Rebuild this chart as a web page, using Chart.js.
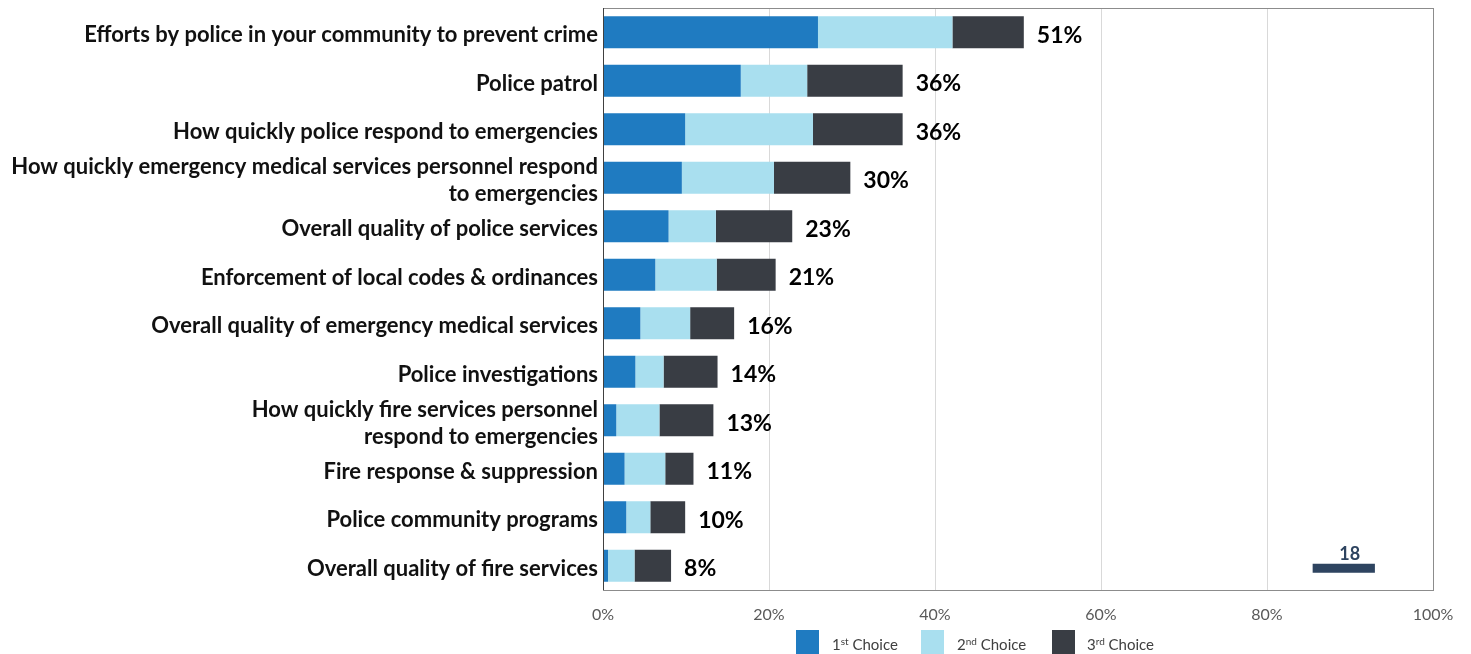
<!DOCTYPE html>
<html>
<head>
<meta charset="utf-8">
<script src="https://cdn.jsdelivr.net/npm/chart.js@4.4.1/dist/chart.umd.min.js"></script>
<style>
  html, body { margin: 0; padding: 0; background: #fff; }
  #wrap { position: relative; width: 1471px; height: 654px; overflow: hidden; }
  #choiceChart { position: absolute; left: 0; top: 0; }
  .legend { position: absolute; top: 630px; font-family: Lato, "Open Sans", sans-serif; font-size: 15px; color: #404040; }
  .legend span.box { position: absolute; top: 0; width: 23px; height: 26px; }
  .legend span.txt { position: absolute; top: 5px; white-space: nowrap; }
  .legend sup { font-size: 10px; vertical-align: 5px; line-height: 0; }
</style>
</head>
<body>
<div id="wrap">
  <canvas id="choiceChart" width="1471" height="654"></canvas>
  <div class="legend">
    <span class="box" style="left:796px;background:#1f7bc1"></span><span class="txt" style="left:832px">1<sup>st</sup> Choice</span>
    <span class="box" style="left:921px;background:#a9dfef"></span><span class="txt" style="left:957px">2<sup>nd</sup> Choice</span>
    <span class="box" style="left:1052px;background:#393d44"></span><span class="txt" style="left:1087px">3<sup>rd</sup> Choice</span>
  </div>
</div>
<script>
// services ranked as 1st / 2nd / 3rd choice (percent of respondents)
const categories = [
  'Efforts by police in your community to prevent crime',
  'Police patrol',
  'How quickly police respond to emergencies',
  ['How quickly emergency medical services personnel respond', 'to emergencies'],
  'Overall quality of police services',
  'Enforcement of local codes & ordinances',
  'Overall quality of emergency medical services',
  'Police investigations',
  ['How quickly fire services personnel', 'respond to emergencies'],
  'Fire response & suppression',
  'Police community programs',
  'Overall quality of fire services'
];
const firstChoice  = [25.9, 16.6, 9.9, 9.5, 7.9, 6.3, 4.5, 3.9, 1.6, 2.6, 2.8, 0.6];
const secondChoice = [16.2, 8.0, 15.4, 11.1, 5.7, 7.4, 6.0, 3.4, 5.2, 4.9, 2.9, 3.2];
const thirdChoice  = [8.6, 11.5, 10.8, 9.2, 9.2, 7.1, 5.3, 6.5, 6.5, 3.4, 4.2, 4.4];
const xTicks = [0, 20, 40, 60, 80, 100];

// small sample-size marker in the lower right
const markerLabel = '18';
const markerFrom = 85.5;
const markerTo = 93;

const totals = categories.map((c, i) => firstChoice[i] + secondChoice[i] + thirdChoice[i]);

const extrasPlugin = {
  id: 'extras',
  afterDatasetsDraw(chart) {
    const ctx = chart.ctx;
    const x = chart.scales.x, y = chart.scales.y;
    const a = chart.chartArea;
    ctx.save();
    // plot frame
    ctx.strokeStyle = '#8c8c8c';
    ctx.lineWidth = 1;
    ctx.strokeRect(a.left + 0.5, a.top + 0.5, a.right - a.left, a.bottom - a.top);
    ctx.strokeStyle = '#404040';
    ctx.beginPath();
    ctx.moveTo(a.left + 0.5, a.top);
    ctx.lineTo(a.left + 0.5, a.bottom);
    ctx.stroke();

    // total labels at the end of each bar
    ctx.fillStyle = '#000';
    ctx.font = 'bold 23px Lato, "Open Sans", sans-serif';
    ctx.textAlign = 'left';
    ctx.textBaseline = 'middle';
    totals.forEach((t, i) => {
      ctx.fillText(Math.round(t) + '%', x.getPixelForValue(t) + 13, y.getPixelForValue(i) + 3);
    });

    // marker bar + label
    const row = categories.length - 1;
    const yc = y.getPixelForValue(row) + 2;
    const x0 = x.getPixelForValue(markerFrom), x1 = x.getPixelForValue(markerTo);
    ctx.fillStyle = '#2e4460';
    ctx.fillRect(x0, yc - 4, x1 - x0, 9);
    ctx.font = 'bold 18px Lato, "Open Sans", sans-serif';
    ctx.textAlign = 'center';
    ctx.textBaseline = 'bottom';
    ctx.fillText(markerLabel, (x0 + x1) / 2 + 6, yc - 5);
    ctx.restore();
  }
};

const ctx = document.getElementById('choiceChart').getContext('2d');
const myChart = new Chart(ctx, {
  type: 'bar',
  data: {
    labels: categories,
    datasets: [
      { label: '1st Choice', data: firstChoice, backgroundColor: '#1f7bc1' },
      { label: '2nd Choice', data: secondChoice, backgroundColor: '#a9dfef' },
      { label: '3rd Choice', data: thirdChoice, backgroundColor: '#393d44' }
    ]
  },
  options: {
    indexAxis: 'y',
    responsive: false,
    animation: false,
    layout: { padding: { top: 8, right: 38, bottom: 30, left: 0 } },
    datasets: { bar: { categoryPercentage: 1, barPercentage: 0.66 } },
    plugins: {
      legend: { display: false },
      tooltip: { enabled: false }
    },
    scales: {
      x: {
        stacked: true,
        min: 0,
        max: 100,
        afterBuildTicks(scale) { scale.ticks = xTicks.map(v => ({ value: v })); },
        afterFit(scale) { scale.height = 34; scale.paddingLeft = 0; scale.paddingRight = 0; },
        border: { display: false },
        grid: {
          drawTicks: false,
          color: c => (c.tick && (c.tick.value === 0 || c.tick.value === 100)) ? 'rgba(0,0,0,0)' : '#d9d9d9'
        },
        ticks: {
          padding: 15,
          color: '#595959',
          font: { family: 'Lato, "Open Sans", sans-serif', size: 16 },
          callback: v => v + '%'
        }
      },
      y: {
        stacked: true,
        afterFit(scale) { scale.width = 603; scale.paddingTop = 0; scale.paddingBottom = 0; },
        border: { display: false },
        grid: { display: false, drawTicks: false },
        ticks: {
          padding: 5,
          labelOffset: 3,
          color: '#111',
          autoSkip: false,
          font: { family: 'Lato, "Open Sans", sans-serif', size: 22, weight: 'bold', lineHeight: 1.22 }
        }
      }
    }
  },
  plugins: [extrasPlugin]
});
</script>
</body>
</html>
